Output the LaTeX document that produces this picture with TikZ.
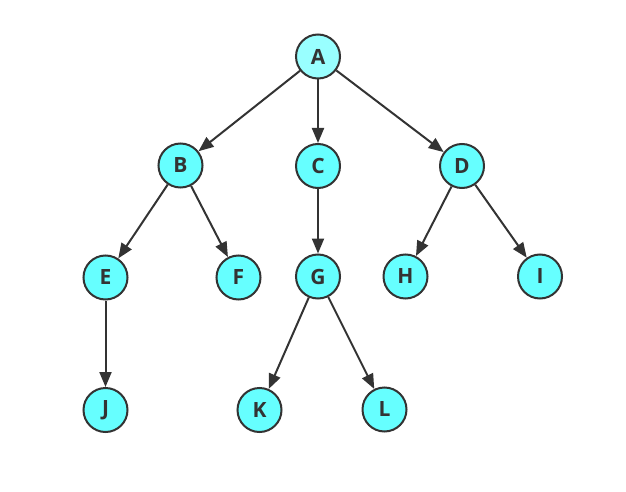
\documentclass[tikz,border=0pt]{standalone}
\usepackage{fontspec}
\setmainfont{Open Sans}
\usetikzlibrary{arrows.meta}
\definecolor{nodefill}{HTML}{66FFFF}
\definecolor{rootfill}{HTML}{99FFFF}
\definecolor{ink}{HTML}{333333}
\tikzset{
  treenode/.style={circle, draw=ink, line width=2pt, fill=nodefill, minimum size=44pt, inner sep=0pt,
    text=ink, font=\fontsize{21}{21}\selectfont\bfseries},
  edge/.style={draw=ink, line width=2pt, -{Triangle[length=15pt,width=12pt]}}
}
\begin{document}
\begin{tikzpicture}[x=1pt,y=-1pt]
\useasboundingbox (0,0) rectangle (626,492);
\node[treenode, fill=rootfill] (A) at (318,56.5) {A};
\node[treenode] (B) at (180.5,165.5) {B};
\node[treenode] (C) at (318,166) {C};
\node[treenode] (D) at (462,166) {D};
\node[treenode] (E) at (105.5,277.5) {E};
\node[treenode] (F) at (238.5,277.5) {F};
\node[treenode] (G) at (318,276.5) {G};
\node[treenode] (H) at (405.5,276.5) {H};
\node[treenode] (I) at (540,276.5) {I};
\node[treenode] (J) at (105.5,410) {J};
\node[treenode] (K) at (259.5,410) {K};
\node[treenode] (L) at (384.5,409.5) {L};
\draw[edge] (A) -- (B);
\draw[edge] (A) -- (C);
\draw[edge] (A) -- (D);
\draw[edge] (B) -- (E);
\draw[edge] (B) -- (F);
\draw[edge] (C) -- (G);
\draw[edge] (D) -- (H);
\draw[edge] (D) -- (I);
\draw[edge] (E) -- (J);
\draw[edge] (G) -- (K);
\draw[edge] (G) -- (L);
\end{tikzpicture}
\end{document}
